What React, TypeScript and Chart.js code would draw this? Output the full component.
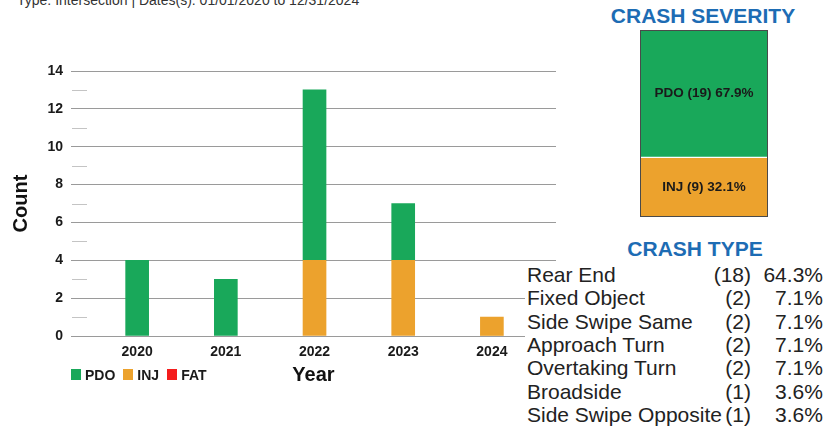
import React, { useEffect, useRef } from "react";
import { Chart, registerables } from "chart.js";

Chart.register(...registerables);

// ---------- data ----------
const headerText = "Type: Intersection | Dates(s): 01/01/2020 to 12/31/2024";
const years = [2020, 2021, 2022, 2023, 2024];
const pdoCounts = [4, 3, 9, 3, 0];
const injCounts = [0, 0, 4, 4, 1];
const fatCounts = [0, 0, 0, 0, 0];
const yTickValues = [0, 2, 4, 6, 8, 10, 12, 14];
const yMinorValues = [1, 3, 5, 7, 9, 11, 13];
const legendLabels = ["PDO", "INJ", "FAT"];
const severityLabels = ["PDO", "INJ"];
const severityCounts = [19, 9];
const crashTypes = [
  "Rear End",
  "Fixed Object",
  "Side Swipe Same",
  "Approach Turn",
  "Overtaking Turn",
  "Broadside",
  "Side Swipe Opposite",
];
const crashTypeCounts = [18, 2, 2, 2, 2, 1, 1];

// ---------- styles ----------
const GREEN = "#19a85a";
const ORANGE = "#eca22d";
const RED = "#f41d1d";
const BLUE = "#1d6cb4";
const FONT = 'Arial, "Liberation Sans", sans-serif';
const legendColors = [GREEN, ORANGE, RED];
const severityColors = [GREEN, ORANGE];

const minorTickPlugin = {
  id: "minorTicks",
  afterDraw(chart: any) {
    const { ctx, scales } = chart;
    const y = scales.y;
    ctx.save();
    ctx.strokeStyle = "#c4c4c4";
    ctx.lineWidth = 1;
    yMinorValues.forEach((v) => {
      const py = Math.round(y.getPixelForValue(v)) + 0.5;
      ctx.beginPath();
      ctx.moveTo(chart.chartArea.left + 1, py);
      ctx.lineTo(chart.chartArea.left + 16, py);
      ctx.stroke();
    });
    ctx.restore();
  },
};

const severityPlugin = {
  id: "severityLabels",
  afterDraw(chart: any) {
    const { ctx, chartArea } = chart;
    const total = severityCounts.reduce((a, b) => a + b, 0);
    ctx.save();
    ctx.font = `bold 13.5px ${FONT}`;
    ctx.fillStyle = "#1a1a1a";
    ctx.textAlign = "center";
    ctx.textBaseline = "middle";
    chart.data.datasets.forEach((ds: any, i: number) => {
      const meta = chart.getDatasetMeta(i);
      const el = meta.data[0];
      if (!el) return;
      const p = el.getProps(["x", "y", "base"], true);
      const v = ds.data[0];
      const txt = `${ds.label} (${v}) ${((v / total) * 100).toFixed(1)}%`;
      ctx.fillText(txt, p.x, (p.y + p.base) / 2);
    });
    ctx.strokeStyle = "#4a4a4a";
    ctx.lineWidth = 1;
    ctx.strokeRect(
      chartArea.left + 0.5,
      chartArea.top + 0.5,
      chartArea.right - chartArea.left - 1,
      chartArea.bottom - chartArea.top - 1
    );
    ctx.restore();
  },
};

export default function App() {
  const barRef = useRef<HTMLCanvasElement>(null);
  const sevRef = useRef<HTMLCanvasElement>(null);

  useEffect(() => {
    if (!barRef.current || !sevRef.current) return;
    const toPts = (arr: number[]) =>
      years.map((x, i) => ({ x, y: arr[i] === 0 ? null : arr[i] }));
    const tickFont = { family: FONT, size: 14, weight: "bold" as const };
    const bar = new Chart(barRef.current, {
      type: "bar",
      data: {
        datasets: [
          { label: "INJ", data: toPts(injCounts), backgroundColor: ORANGE, barThickness: 23 },
          { label: "PDO", data: toPts(pdoCounts), backgroundColor: GREEN, barThickness: 23 },
          { label: "FAT", data: toPts(fatCounts), backgroundColor: RED, barThickness: 23 },
        ] as any,
      },
      options: {
        animation: false,
        responsive: false,
        layout: { padding: { left: 0, top: 71, right: 4, bottom: 0 } },
        plugins: { legend: { display: false }, tooltip: { enabled: false } },
        scales: {
          x: {
            type: "linear",
            stacked: true,
            offset: false,
            min: 2019.254,
            max: 2024.723,
            grid: { display: false, offset: false },
            border: { display: false },
            afterBuildTicks: (s: any) => {
              s.ticks = years.map((v) => ({ value: v }));
            },
            afterFit: (s: any) => {
              s.height = 93;
            },
            ticks: {
              callback: (v: any) => String(v),
              font: tickFont,
              color: "#1a1a1a",
              padding: 0,
              maxRotation: 0,
              autoSkip: false,
            },
            title: {
              display: true,
              text: "Year",
              font: { family: FONT, size: 20, weight: "bold" },
              color: "#111",
              padding: { top: 0, bottom: 42 },
            },
          } as any,
          y: {
            stacked: true,
            min: 0,
            max: 14,
            z: 1,
            afterBuildTicks: (s: any) => {
              s.ticks = yTickValues.map((v) => ({ value: v }));
            },
            afterFit: (s: any) => {
              s.width = 71;
            },
            grid: { color: "#9a9a9a", lineWidth: 1, drawTicks: false },
            border: { display: false },
            ticks: { padding: 8, font: tickFont, color: "#1a1a1a" },
            title: {
              display: true,
              text: "Count",
              font: { family: FONT, size: 20, weight: "bold" },
              color: "#111",
              padding: { top: 9, bottom: 0 },
            },
          } as any,
        },
      },
      plugins: [minorTickPlugin],
    });

    const total = severityCounts.reduce((a, b) => a + b, 0);
    const sevDatasets: any[] = severityLabels
      .map((lab, i) => ({
        label: lab,
        data: [severityCounts[i]],
        backgroundColor: severityColors[i],
        borderColor: "#ffffff",
        borderWidth: { top: 0, bottom: 0, left: 0, right: 0 },
        categoryPercentage: 1,
        barPercentage: 1,
      }))
      .reverse();
    sevDatasets[0].borderWidth = { top: 1.5, bottom: 0, left: 0, right: 0 };
    const sev = new Chart(sevRef.current, {
      type: "bar",
      data: { labels: [""], datasets: sevDatasets },
      options: {
        animation: false,
        responsive: false,
        layout: { padding: 0 },
        plugins: { legend: { display: false }, tooltip: { enabled: false } },
        scales: {
          x: { display: false, stacked: true },
          y: { display: false, stacked: true, min: 0, max: total },
        },
      },
      plugins: [severityPlugin],
    });

    return () => {
      bar.destroy();
      sev.destroy();
    };
  }, []);

  const typeTotal = crashTypeCounts.reduce((a, b) => a + b, 0);

  return (
    <div
      style={{
        position: "absolute",
        left: 0,
        top: 0,
        width: 834,
        height: 429,
        overflow: "hidden",
        background: "#fff",
        fontFamily: FONT,
      }}
    >
      <div
        style={{
          position: "absolute",
          left: 17,
          top: -8,
          fontSize: 14,
          lineHeight: "16px",
          color: "#333",
          whiteSpace: "nowrap",
        }}
      >
        {headerText}
      </div>
      <canvas
        ref={barRef}
        width={560}
        height={429}
        style={{ position: "absolute", left: 0, top: 0, width: 560, height: 429 }}
      />
      <div
        style={{
          position: "absolute",
          left: 71,
          top: 366,
          display: "flex",
          alignItems: "center",
          height: 17,
          fontSize: 14,
          fontWeight: "bold",
          color: "#1a1a1a",
          whiteSpace: "nowrap",
        }}
      >
        {legendLabels.map((lab, i) => (
          <div key={lab} style={{ display: "flex", alignItems: "center", marginRight: 8 }}>
            <span
              style={{
                display: "inline-block",
                width: 10,
                height: 11,
                background: legendColors[i],
                marginRight: 4,
              }}
            />
            <span>{lab}</span>
          </div>
        ))}
      </div>

      <div
        style={{
          position: "absolute",
          left: 603,
          width: 200,
          top: 4,
          textAlign: "center",
          fontSize: 21,
          lineHeight: "24px",
          fontWeight: "bold",
          color: BLUE,
          whiteSpace: "nowrap",
        }}
      >
        CRASH SEVERITY
      </div>
      <canvas
        ref={sevRef}
        width={128}
        height={187}
        style={{ position: "absolute", left: 640, top: 30, width: 128, height: 187 }}
      />

      <div
        style={{
          position: "absolute",
          left: 595,
          width: 200,
          top: 237,
          textAlign: "center",
          fontSize: 21,
          lineHeight: "24px",
          fontWeight: "bold",
          color: BLUE,
          whiteSpace: "nowrap",
        }}
      >
        CRASH TYPE
      </div>
      <div
        style={{
          position: "absolute",
          left: 525,
          top: 263,
          width: 309,
          height: 166,
          background: "#fff",
          fontSize: 21,
          color: "#222",
        }}
      >
        {crashTypes.map((name, i) => (
          <div key={name} style={{ position: "relative", height: 23.33, lineHeight: "23.33px" }}>
            <span style={{ position: "absolute", left: 2, whiteSpace: "nowrap" }}>{name}</span>
            <span style={{ position: "absolute", right: 83, whiteSpace: "nowrap" }}>
              ({crashTypeCounts[i]})
            </span>
            <span style={{ position: "absolute", right: 11, whiteSpace: "nowrap" }}>
              {((crashTypeCounts[i] / typeTotal) * 100).toFixed(1)}%
            </span>
          </div>
        ))}
      </div>
    </div>
  );
}
